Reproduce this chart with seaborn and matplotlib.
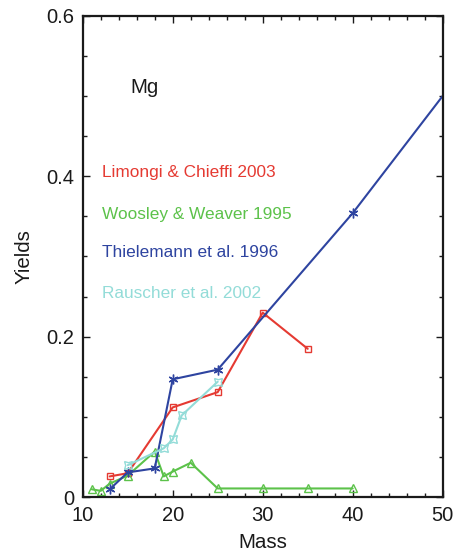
import matplotlib
matplotlib.use("Agg")
import matplotlib.pyplot as plt
from matplotlib.ticker import MultipleLocator
import pandas as pd
import seaborn as sns

# Mg yields vs. progenitor mass for four model sets
lc_mass = [13, 15, 20, 25, 30, 35]
lc_yield = [0.026, 0.030, 0.112, 0.131, 0.230, 0.185]

ww_mass = [11, 12, 13, 15, 18, 19, 20, 22, 25, 30, 35, 40]
ww_yield = [0.010, 0.008, 0.017, 0.027, 0.057, 0.026, 0.032, 0.043, 0.011, 0.011, 0.011, 0.011]

th_mass = [13, 15, 18, 20, 25, 40, 70]
th_yield = [0.010, 0.031, 0.036, 0.147, 0.159, 0.354, 0.792]

ra_mass = [15, 19, 20, 21, 25]
ra_yield = [0.040, 0.061, 0.072, 0.102, 0.144]

series_names = ["Limongi & Chieffi 2003", "Woosley & Weaver 1995",
                "Thielemann et al. 1996", "Rauscher et al. 2002"]

sns.set_theme(style="ticks")
plt.rcParams["font.family"] = ["Liberation Sans", "DejaVu Sans"]

fig = plt.figure(figsize=(4.6, 5.58), dpi=100)
ax = fig.add_axes([0.1798, 0.1088, 0.7826, 0.8631])

styles = [
    (lc_mass, lc_yield, "#e53a32", "s", 5.0),
    (ww_mass, ww_yield, "#5cc24a", "^", 6.0),
    (th_mass, th_yield, "#2e44a0", (6, 2, 0), 7.0),
    (ra_mass, ra_yield, "#93dcd8", (4, 1, 45), 8.0),
]

for name, (m, y, col, mk, ms) in zip(series_names, styles):
    df = pd.DataFrame({"Mass": m, "Yields": y})
    sns.lineplot(data=df, x="Mass", y="Yields", ax=ax, color=col, lw=1.5,
                 marker=mk, markersize=ms, markerfacecolor="none",
                 markeredgecolor=col, markeredgewidth=1.0, sort=False,
                 estimator=None, legend=False)

ax.set_xlim(10, 50)
ax.set_ylim(0, 0.6)
ax.xaxis.set_major_locator(MultipleLocator(10))
ax.xaxis.set_minor_locator(MultipleLocator(2))
ax.yaxis.set_major_locator(MultipleLocator(0.2))
ax.yaxis.set_minor_locator(MultipleLocator(0.05))
ax.set_yticklabels(["0", "0.2", "0.4", "0.6"])
ax.set_xticks([10, 20, 30, 40, 50])
ax.set_yticks([0, 0.2, 0.4, 0.6])
ax.set_yticklabels(["0", "0.2", "0.4", "0.6"])

ax.tick_params(which="both", direction="in", top=True, right=True,
               colors="#1a1a1a", labelcolor="#1a1a1a")
ax.tick_params(which="major", length=4.8, width=1.0, labelsize=14.5, pad=6)
ax.tick_params(which="minor", length=2.9, width=1.0)
for sp in ax.spines.values():
    sp.set_linewidth(1.6)
    sp.set_color("#1a1a1a")

ax.set_xlabel("Mass", fontsize=14.8, labelpad=6.3, color="#1a1a1a")
ax.set_ylabel("Yields", fontsize=14.8, labelpad=8.9, color="#1a1a1a")

ax.text(15.25, 0.51, "Mg", fontsize=14.8, color="#1a1a1a",
        ha="left", va="center")

label_y = [0.405, 0.3525, 0.3046, 0.254]
for name, (_, _, col, _, _), ly in zip(series_names, styles, label_y):
    ax.text(12.1, ly, name, fontsize=12.4, color=col, ha="left", va="center")

fig.savefig("out.png", dpi=100)
